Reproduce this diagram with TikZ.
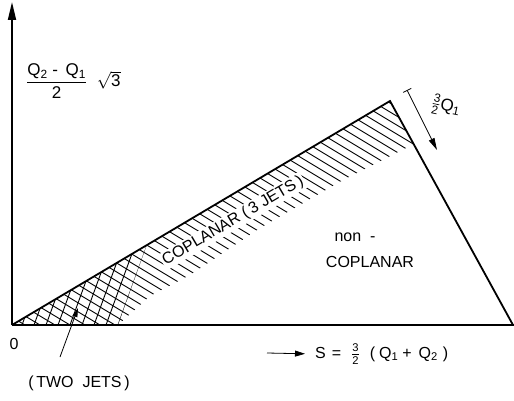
\documentclass[tikz,border=0pt]{standalone}
\usepackage{amsmath}
\usepackage{fontspec}
\setmainfont{Liberation Sans}
\usetikzlibrary{arrows.meta}
\begin{document}
\begin{tikzpicture}[x=1pt,y=-1pt,
  edge/.style={line width=1.8pt},
  hatch/.style={line width=0.9pt},
  thinarrow/.style={line width=0.8pt},
  lbl/.style={font=\fontsize{16}{19}\selectfont, inner sep=0pt}]
\useasboundingbox (0,0) rectangle (514,401);
\coordinate (O) at (12,325);
\coordinate (Ytop) at (12,2);
\coordinate (Xend) at (514,325);
\coordinate (A) at (390,101);
\coordinate (B) at (513,325);
% single hatching along the upper edge
\begin{scope}
  \clip (12,325) -- (390,101) -- (414,144) -- (343,180) -- (260,228) -- (190,275) -- (150,296) -- (118,325) -- cycle;
  \foreach \c in {-140,-131,...,320} \draw[hatch] (0,\c) -- (520,\c+312);
\end{scope}
% cross hatching (two jets)
\begin{scope}
  \clip (12,325) -- (146.7,245.2) -- (118,325) -- cycle;
  \foreach \x in {118,106,...,10} \draw[hatch] (\x,325) -- (\x+36.4,225);
\end{scope}
% triangle and axes
\draw[edge] (O) -- (A) -- (B);
\draw[edge] (O) -- (Xend);
\draw[edge, -{Triangle[length=18pt,width=8pt]}] (O) -- (Ytop);
% labels
\node[lbl, font=\fontsize{17}{20}\selectfont, anchor=west] (ylab) at (26,81) {$\dfrac{\text{Q}_{\text{2}}\text{\ - \,Q}_{\text{1}}}{\text{2}}\;\;\sqrt{\text{3}}$};
\node[lbl] (zero) at (14,344) {0};
\node[lbl] (twojets) at (79,383) {(\,TWO\ \ JETS\,)};
\coordinate (tjstart) at (60,357);
\coordinate (tjtip) at (78,308);
\draw[thinarrow, -{Triangle[length=9pt,width=5pt]}] (tjstart) -- (tjtip);
\node[lbl, rotate=30.6, fill=white, inner sep=1.5pt] (cop3) at (233,221) {COPLANAR (\,3 JETS\,)};
\node[lbl] (non) at (355,237) {non\ \ -};
\node[lbl] (noncop) at (370,262) {COPLANAR};
\coordinate (sstart) at (267,353);
\node[lbl, anchor=west] (slab) at (315,354) {S\hspace{6pt}=\hspace{10pt}$\tfrac{\text{3}}{\text{2}}$\hspace{10pt}(\hspace{4pt}Q$_{\text{1}}$\hspace{4pt}+\hspace{7pt}Q$_{\text{2}}$\hspace{5pt})};
\draw[thinarrow, -{Triangle[length=10pt,width=6pt]}, shorten >=10pt] (sstart) -- (slab.west);
\coordinate (qs) at (407,90);
\coordinate (qe) at (437,150);
\draw[thinarrow, {Bar[width=9pt]}-{Triangle[length=12pt,width=6pt]}] (qs) -- (qe);
\node[lbl, font=\fontsize{17}{20}\selectfont, rotate=-12] (qlab) at (446,106) {$\tfrac{\text{3}}{\text{2}}$Q$_{\text{1}}$};
\end{tikzpicture}
\end{document}
